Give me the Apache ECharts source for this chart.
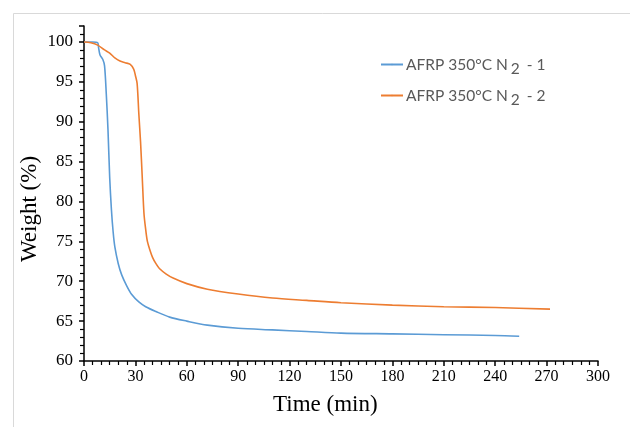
<!DOCTYPE html>
<html>
<head>
<meta charset="utf-8">
<script src="https://cdn.jsdelivr.net/npm/echarts@6/dist/echarts.min.js"></script>
<style>html,body{margin:0;padding:0;background:#fff}#c{width:630px;height:427px}</style>
</head>
<body>
<div id="c"></div>
<script>
// Time (min) and weight (%)
var time1 = [0, 5, 8, 8.5, 9.3, 11, 12, 13, 14, 15, 16, 17, 18, 20, 22, 25, 28, 32, 36, 42, 50, 60, 72, 90, 110, 130, 150, 180, 210, 240, 254];
var weight1 = [100, 100, 99.9, 99.3, 98.4, 97.8, 97, 93.5, 89, 83, 79, 76.2, 74.3, 72.2, 70.8, 69.4, 68.3, 67.4, 66.8, 66.2, 65.5, 65.0, 64.5, 64.1, 63.9, 63.7, 63.5, 63.4, 63.3, 63.2, 63.1];
var time2 = [0, 4, 8, 12, 15, 18, 21, 24, 27, 29, 30, 31, 32, 33, 34, 35, 36, 37, 38.5, 40, 42, 44, 48, 52, 60, 72, 90, 110, 130, 150, 180, 210, 240, 272];
var weight2 = [100, 99.9, 99.6, 99.0, 98.6, 98.0, 97.6, 97.4, 97.2, 96.6, 95.8, 94.8, 91, 87.5, 83, 78.5, 76.5, 75, 73.9, 73.0, 72.2, 71.6, 70.9, 70.4, 69.7, 69.0, 68.4, 67.9, 67.6, 67.3, 67.0, 66.8, 66.7, 66.5];
var seriesNames = ['AFRP 350°C N2 - 1', 'AFRP 350°C N2 - 2'];
var xTicks = {min: 0, max: 300, interval: 30};
var yTicks = {min: 60, max: 102, interval: 5};

function pairs(t, w) { return t.map(function (v, i) { return [v, w[i]]; }); }

var chart = echarts.init(document.getElementById('c'));
var serif = 'Liberation Serif';
chart.setOption({
  animation: false,
  backgroundColor: '#fff',
  grid: {left: 84, right: 32, top: 26, bottom: 66},
  legend: {
    orient: 'vertical',
    left: 380, top: 52, padding: 0,
    itemGap: 6,
    itemWidth: 22, itemHeight: 2,
    data: seriesNames,
    formatter: function (n) {
      var p = n.split('N2');
      return '{a|' + p[0] + 'N}{s|2}{a|' + p[1] + '}';
    },
    textStyle: {
      padding: [0, 0, 0, -2],
      rich: {
        a: {fontFamily: 'Lato', fontSize: 15.5, color: '#595959', lineHeight: 21},
        s: {fontFamily: 'Lato', fontSize: 15.5, color: '#595959', padding: [9, 3, 0, 3], lineHeight: 21}
      }
    }
  },
  xAxis: {
    type: 'value', min: xTicks.min, max: xTicks.max, interval: xTicks.interval,
    axisLine: {onZero: false, lineStyle: {color: '#000', width: 1.5}},
    axisTick: {show: true, inside: false, length: 5, lineStyle: {color: '#000', width: 1.5}},
    minorTick: {show: true, splitNumber: 6, length: 4, lineStyle: {color: '#000', width: 1.2}},
    axisLabel: {fontFamily: serif, fontSize: 16, color: '#000', margin: 8},
    splitLine: {show: false}
  },
  yAxis: {
    type: 'value', min: yTicks.min, max: yTicks.max, interval: yTicks.interval,
    axisLine: {show: true, onZero: false, lineStyle: {color: '#000', width: 1.5}},
    axisTick: {show: true, inside: false, length: 5, lineStyle: {color: '#000', width: 1.5}},
    minorTick: {show: true, splitNumber: 5, length: 4, lineStyle: {color: '#000', width: 1.2}},
    axisLabel: {
      fontFamily: serif, fontSize: 17, color: '#000', margin: 11,
      showMaxLabel: false,
      formatter: function (v) { return v % 5 === 0 ? String(v) : ''; }
    },
    splitLine: {show: false}
  },
  graphic: [
    {type: 'rect', left: 11, top: 11, shape: {width: 640, height: 414}, style: {fill: 'none', stroke: '#d9d9d9', lineWidth: 1}, silent: true},
    {type: 'text', left: 273, top: 393, style: {text: 'Time (min)', font: '23px "Liberation Serif"', fill: '#000'}},
    {type: 'text', x: 18, y: 262, rotation: Math.PI / 2, style: {text: 'Weight (%)', font: '23px "Liberation Serif"', fill: '#000'}}
  ],
  series: [
    {name: seriesNames[0], type: 'line', data: pairs(time1, weight1), showSymbol: false, symbol: 'none', smooth: 0.3,
     lineStyle: {color: '#5B9BD5', width: 1.6}, itemStyle: {color: '#5B9BD5'}},
    {name: seriesNames[1], type: 'line', data: pairs(time2, weight2), showSymbol: false, symbol: 'none', smooth: 0.3,
     lineStyle: {color: '#ED7D31', width: 1.6}, itemStyle: {color: '#ED7D31'}}
  ]
});
</script>
</body>
</html>
